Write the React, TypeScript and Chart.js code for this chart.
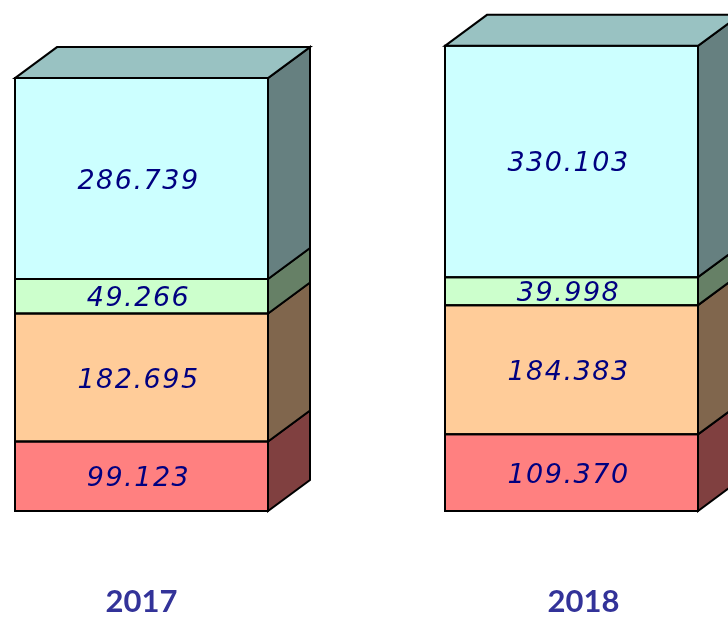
import React, { useEffect, useRef } from "react";
import { Chart, registerables } from "chart.js";

Chart.register(...registerables);

// ---- data ----
const categories = ["2017", "2018"];
const seriesRed = [99.123, 109.37];
const seriesOrange = [182.695, 184.383];
const seriesGreen = [49.266, 39.998];
const seriesCyan = [286.739, 330.103];

const seriesNames = ["Serie 1", "Serie 2", "Serie 3", "Serie 4"];
const frontColors = ["#FF8080", "#FFCC99", "#CCFFCC", "#CCFFFF"];
const sideColors = ["#804040", "#80664D", "#668066", "#668080"];
const topColors = ["#BF6060", "#BF9973", "#99BF99", "#99C2C2"];

const DX = 42;
const DY = 31;
const yearLabelShift = [0, 12];

const bar3dPlugin = {
  id: "bar3d",
  afterDatasetsDraw(chart: any) {
    const ctx = chart.ctx as CanvasRenderingContext2D;
    const n = chart.data.datasets.length;
    ctx.save();
    ctx.lineWidth = 2;
    ctx.strokeStyle = "#000000";
    ctx.lineJoin = "miter";
    for (let di = 0; di < n; di++) {
      const meta = chart.getDatasetMeta(di);
      meta.data.forEach((el: any) => {
        const { x, y, base, width } = el.getProps(["x", "y", "base", "width"], true);
        const l = x - width / 2;
        const r = x + width / 2;
        // front outline
        ctx.beginPath();
        ctx.rect(l, y, width, base - y);
        ctx.stroke();
        // side face
        ctx.beginPath();
        ctx.moveTo(r, y);
        ctx.lineTo(r + DX, y - DY);
        ctx.lineTo(r + DX, base - DY);
        ctx.lineTo(r, base);
        ctx.closePath();
        ctx.fillStyle = sideColors[di];
        ctx.fill();
        ctx.stroke();
        if (di === n - 1) {
          ctx.beginPath();
          ctx.moveTo(l, y);
          ctx.lineTo(l + DX, y - DY);
          ctx.lineTo(r + DX, y - DY);
          ctx.lineTo(r, y);
          ctx.closePath();
          ctx.fillStyle = topColors[di];
          ctx.fill();
          ctx.stroke();
        }
      });
    }
    // value labels
    ctx.font = "italic 27px 'DejaVu Sans'";
    (ctx as any).letterSpacing = "1.5px";
    ctx.fillStyle = "#000080";
    ctx.textAlign = "center";
    ctx.textBaseline = "middle";
    for (let di = 0; di < n; di++) {
      const meta = chart.getDatasetMeta(di);
      const values = chart.data.datasets[di].data as number[];
      meta.data.forEach((el: any, i: number) => {
        const { x, y, base } = el.getProps(["x", "y", "base"], true);
        ctx.fillText(values[i].toFixed(3), x - 3, (y + base) / 2 + 3);
      });
    }
    (ctx as any).letterSpacing = "0px";
    // category labels
    const xScale = chart.scales.x;
    ctx.font = "bold 31px Lato";
    ctx.fillStyle = "#333399";
    ctx.textAlign = "center";
    ctx.textBaseline = "alphabetic";
    categories.forEach((c, i) => {
      ctx.fillText(c, xScale.getPixelForValue(i) + yearLabelShift[i], chart.chartArea.bottom + 101);
    });
    ctx.restore();
  },
};

export default function App() {
  const ref = useRef<HTMLCanvasElement | null>(null);
  useEffect(() => {
    document.body.style.margin = "0";
    if (!ref.current) return;
    const allSeries = [seriesRed, seriesOrange, seriesGreen, seriesCyan];
    const chart = new Chart(ref.current, {
      type: "bar",
      data: {
        labels: categories,
        datasets: allSeries.map((s, i) => ({
          label: seriesNames[i],
          data: s,
          backgroundColor: frontColors[i],
          borderWidth: 0,
          barThickness: 253,
          clip: false as any,
        })),
      },
      options: {
        responsive: false,
        maintainAspectRatio: false,
        animation: false,
        layout: { padding: { left: 141.5, right: 156.5, top: 20.5, bottom: 106 } },
        plugins: { legend: { display: false }, tooltip: { enabled: false } },
        scales: {
          x: { type: "category", stacked: true, offset: false, display: false },
          y: { stacked: true, min: 0, max: 700, display: false },
        },
      },
      plugins: [bar3dPlugin],
    });
    return () => chart.destroy();
  }, []);
  return (
    <div style={{ width: 728, height: 617, background: "#ffffff" }}>
      <canvas ref={ref} width={728} height={617} style={{ display: "block" }} />
    </div>
  );
}
